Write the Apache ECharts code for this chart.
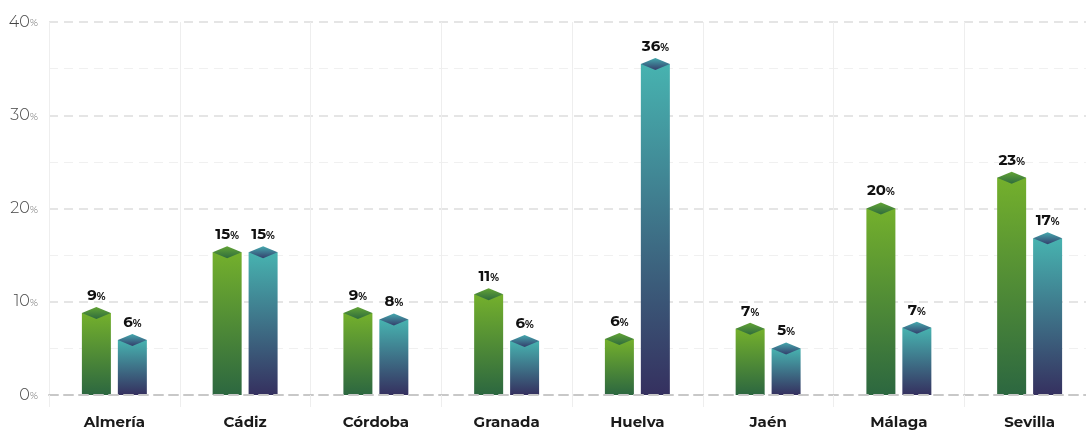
<!DOCTYPE html>
<html>
<head>
<meta charset="utf-8">
<script src="https://cdn.jsdelivr.net/npm/echarts@6/dist/echarts.min.js"></script>
<style>
  html, body { margin: 0; padding: 0; background: #fff; }
</style>
</head>
<body>
<div id="main" style="width: 1086px;height:432px;"></div>
<script>
    // provincias
    var provincias = ['Almería', 'Cádiz', 'Córdoba', 'Granada', 'Huelva', 'Jaén', 'Málaga', 'Sevilla'];
    // serie verde y serie azul (%)
    var serieVerde = [8.8, 15.3, 8.8, 10.8, 6.0, 7.1, 20.0, 23.3];
    var serieAzul = [5.9, 15.3, 8.1, 5.8, 35.5, 5.0, 7.2, 16.8];
    var ticksY = [0, 10, 20, 30, 40];

    var fuente = "Montserrat, 'Open Sans', 'Noto Sans', sans-serif";

    function grad(a, b) {
        return new echarts.graphic.LinearGradient(0, 0, 0, 1, [
            {offset: 0, color: a},
            {offset: 1, color: b}
        ]);
    }

    var etiqueta = {
        show: true,
        position: 'top',
        distance: 10,
        formatter: function (p) {
            return '{n|' + Math.round(p.value) + '}{p|%}';
        },
        rich: {
            n: {fontFamily: fuente, fontSize: 15, fontWeight: 'bold', color: '#111'},
            p: {fontFamily: fuente, fontSize: 10, fontWeight: 'bold', color: '#111', padding: [3, 0, 0, 0]}
        }
    };

    var myChart = echarts.init(document.getElementById('main'));
    var option = {
        animation: false,
        grid: {left: 49, width: 1046, top: 22, bottom: 37, outerBoundsMode: 'none'},
        xAxis: {
            type: 'category',
            data: provincias,
            z: 10,
            axisLine: {show: true, lineStyle: {color: '#c8c8c8', width: 2, type: [9, 6]}},
            axisTick: {show: true, length: 12, lineStyle: {color: '#eeeeee'}},
            splitLine: {show: true, lineStyle: {color: '#eeeeee', width: 1}},
            axisLabel: {
                margin: 20,
                fontFamily: fuente,
                fontSize: 15,
                fontWeight: 'bold',
                color: '#1a1a1a'
            }
        },
        yAxis: {
            type: 'value',
            min: ticksY[0],
            max: ticksY[ticksY.length - 1],
            interval: 10,
            axisLine: {show: false},
            axisTick: {show: false},
            minorTick: {show: false, splitNumber: 2},
            minorSplitLine: {show: true, lineStyle: {color: '#f0f0f0', width: 1, type: [9, 6]}},
            splitLine: {lineStyle: {color: '#dddddd', width: 1.5, type: [9, 6]}},
            axisLabel: {
                margin: 11,
                formatter: '{a|{value}}{b|%}',
                rich: {
                    a: {fontFamily: fuente, fontSize: 16, fontWeight: 300, color: '#444'},
                    b: {fontFamily: fuente, fontSize: 10, fontWeight: 300, color: '#666', padding: [3, 0, 0, 0]}
                }
            }
        },
        series: [
            {
                name: 'verde',
                type: 'bar',
                data: serieVerde,
                barWidth: 29,
                barGap: '24%',
                itemStyle: {color: grad('#74b02c', '#2c6740')},
                label: etiqueta
            },
            {
                name: 'azul',
                type: 'bar',
                data: serieAzul,
                barWidth: 29,
                barGap: '24%',
                itemStyle: {color: grad('#47b3b0', '#35305f')},
                label: etiqueta
            },
            {
                name: 'tapa verde',
                type: 'pictorialBar',
                data: serieVerde,
                barWidth: 29,
                barGap: '24%',
                symbol: 'diamond',
                symbolSize: [29, 12],
                symbolPosition: 'end',
                symbolOffset: [0, '-50%'],
                z: 3,
                itemStyle: {color: grad('#62a435', '#2f6b3e')}
            },
            {
                name: 'tapa azul',
                type: 'pictorialBar',
                data: serieAzul,
                barWidth: 29,
                barGap: '24%',
                symbol: 'diamond',
                symbolSize: [29, 12],
                symbolPosition: 'end',
                symbolOffset: [0, '-50%'],
                z: 3,
                itemStyle: {color: grad('#45a9ae', '#343f6c')}
            }
        ]
    };
    myChart.setOption(option);
</script>
</body>
</html>
